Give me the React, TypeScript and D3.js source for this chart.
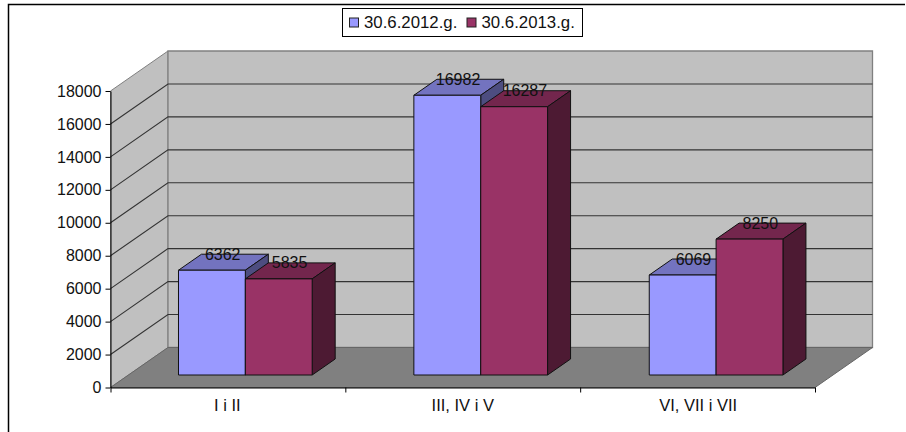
import { useEffect, useRef } from "react";
import * as d3 from "d3";

const categories = ["I i II", "III, IV i V", "VI, VII i VII"];
const seriesNames = ["30.6.2012.g.", "30.6.2013.g."];
const values2012 = [6362, 16982, 6069];
const values2013 = [5835, 16287, 8250];
const yTicks = [0, 2000, 4000, 6000, 8000, 10000, 12000, 14000, 16000, 18000];
const colors = ["#9999ff", "#993366"];

const font = "'Liberation Sans', Arial, sans-serif";

const shade = (hex: string, k: number) => {
  const c = d3.rgb(hex);
  return d3.rgb(c.r * k, c.g * k, c.b * k).formatHex();
};

const App = () => {
  const svgRef = useRef<SVGSVGElement>(null);

  useEffect(() => {
    const svg = d3.select(svgRef.current);
    svg.selectAll("*").remove();

    // front plane scales
    const x0 = d3
      .scaleBand()
      .domain(categories)
      .range([110.5, 815])
      .paddingInner(0.432)
      .paddingOuter(0.2125);
    const x1 = d3
      .scaleBand()
      .domain(seriesNames)
      .range([0, x0.bandwidth()]);
    const y = d3.scaleLinear().domain([0, 18000]).range([387.5, 91]);

    // oblique depth, 0 = front of the floor, 1 = back wall
    const depthX = 57.5;
    const depthY = 40;
    const px = (x: number, d: number) => x + depthX * d;
    const py = (v: number, d: number) => y(v) - depthY * d;
    const poly = (pts: number[][]) =>
      d3.line()(pts as [number, number][]) + "Z";

    const left = x0.range()[0];
    const right = x0.range()[1];
    const top = yTicks[yTicks.length - 1];

    // frame is cut off at the right and bottom of the picture
    svg
      .append("path")
      .attr("d", "M8.5,432V4.5H905")
      .attr("fill", "none")
      .attr("stroke", "black")
      .attr("stroke-width", 1.5);

    // side wall
    svg
      .append("path")
      .attr("d", poly([
        [px(left, 0), py(0, 0)],
        [px(left, 1), py(0, 1)],
        [px(left, 1), py(top, 1)],
        [px(left, 0), py(top, 0)],
      ]))
      .attr("fill", "#c0c0c0")
      .attr("stroke", "#808080");
    // back wall
    svg
      .append("path")
      .attr("d", poly([
        [px(left, 1), py(0, 1)],
        [px(right, 1), py(0, 1)],
        [px(right, 1), py(top, 1)],
        [px(left, 1), py(top, 1)],
      ]))
      .attr("fill", "#c0c0c0")
      .attr("stroke", "#808080")
      .attr("stroke-width", 1.3);
    // floor
    svg
      .append("path")
      .attr("d", poly([
        [px(left, 0), py(0, 0)],
        [px(right, 0), py(0, 0)],
        [px(right, 1), py(0, 1)],
        [px(left, 1), py(0, 1)],
      ]))
      .attr("fill", "#808080")
      .attr("stroke", "#666");

    // gridlines
    svg
      .append("g")
      .selectAll("path")
      .data(yTicks.slice(1, -1))
      .join("path")
      .attr("d", (t) =>
        d3.line()([
          [px(left, 0), py(t, 0)],
          [px(left, 1), py(t, 1)],
          [px(right, 1), py(t, 1)],
        ])
      )
      .attr("fill", "none")
      .attr("stroke", "#333")
      .attr("stroke-width", 1.1);

    // bars
    const d0 = 0.3125;
    const d1 = 0.7125;
    const series = [values2012, values2013];
    series.forEach((vals, s) => {
      const g = svg.append("g");
      vals.forEach((v, i) => {
        const a = x0(categories[i])! + x1(seriesNames[s])!;
        const b = a + x1.bandwidth();
        const faces = [
          {
            fill: shade(colors[s], 0.75),
            pts: [
              [px(a, d0), py(v, d0)],
              [px(b, d0), py(v, d0)],
              [px(b, d1), py(v, d1)],
              [px(a, d1), py(v, d1)],
            ],
          },
          {
            fill: shade(colors[s], 0.5),
            pts: [
              [px(b, d0), py(0, d0)],
              [px(b, d1), py(0, d1)],
              [px(b, d1), py(v, d1)],
              [px(b, d0), py(v, d0)],
            ],
          },
          {
            fill: colors[s],
            pts: [
              [px(a, d0), py(0, d0)],
              [px(b, d0), py(0, d0)],
              [px(b, d0), py(v, d0)],
              [px(a, d0), py(v, d0)],
            ],
          },
        ];
        g.selectAll("path.f" + i)
          .data(faces)
          .join("path")
          .attr("d", (f) => poly(f.pts))
          .attr("fill", (f) => f.fill)
          .attr("stroke", "#111")
          .attr("stroke-width", 1);
      });
    });

    // value labels sit over the top face of each bar
    series.forEach((vals, s) => {
      svg
        .append("g")
        .selectAll("text")
        .data(vals)
        .join("text")
        .attr("x", (_, i) => {
          const a = x0(categories[i])! + x1(seriesNames[s])!;
          return px(a + x1.bandwidth() / 2, 0.5);
        })
        .attr("y", (v) => py(v, d1) + 5.5)
        .attr("text-anchor", "middle")
        .attr("font-size", 16)
        .attr("fill", "#111")
        .text((v) => v);
    });

    // axes
    const yAxis = d3
      .axisLeft(y)
      .tickValues(yTicks)
      .tickFormat((d) => String(d))
      .tickSize(5)
      .tickSizeOuter(0);
    const gy = svg.append("g").attr("transform", "translate(110.5,0)").call(yAxis);
    gy.selectAll("text")
      .attr("font-size", 16)
      .attr("fill", "#111")
      .attr("font-family", font)
      .attr("x", -9);

    const xLinear = d3
      .scaleLinear()
      .domain([0, categories.length])
      .range(x0.range());
    const xAxis = d3
      .axisBottom(xLinear)
      .tickValues(d3.range(categories.length + 1))
      .tickFormat(() => "")
      .tickSize(5)
      .tickSizeOuter(0);
    svg.append("g").attr("transform", "translate(0,387.5)").call(xAxis);
    svg
      .append("g")
      .selectAll("text")
      .data(categories)
      .join("text")
      .attr("x", (d) => x0(d)! + x0.bandwidth() / 2)
      .attr("y", 410.7)
      .attr("text-anchor", "middle")
      .attr("font-size", 16.5)
      .attr("fill", "#111")
      .text((d) => d);

    // legend
    svg
      .append("rect")
      .attr("x", 342.5)
      .attr("y", 8.5)
      .attr("width", 240)
      .attr("height", 28)
      .attr("fill", "white")
      .attr("stroke", "black");
    const legendX = d3.scaleOrdinal<string, number>().domain(seriesNames).range([349.5, 467]);
    const lg = svg
      .append("g")
      .selectAll("g")
      .data(seriesNames)
      .join("g")
      .attr("transform", (d) => `translate(${legendX(d)},18)`);
    lg.append("rect")
      .attr("width", 9)
      .attr("height", 9)
      .attr("fill", (_, i) => colors[i])
      .attr("stroke", "#222");
    lg.append("text")
      .attr("x", 14.5)
      .attr("y", 9.5)
      .attr("font-size", 16.8)
      .attr("fill", "#111")
      .text((d) => d);
  }, []);

  return (
    <svg
      ref={svgRef}
      width={906}
      height={432}
      style={{ position: "absolute", left: 0, top: 0, fontFamily: font }}
    ></svg>
  );
};

export default App;
